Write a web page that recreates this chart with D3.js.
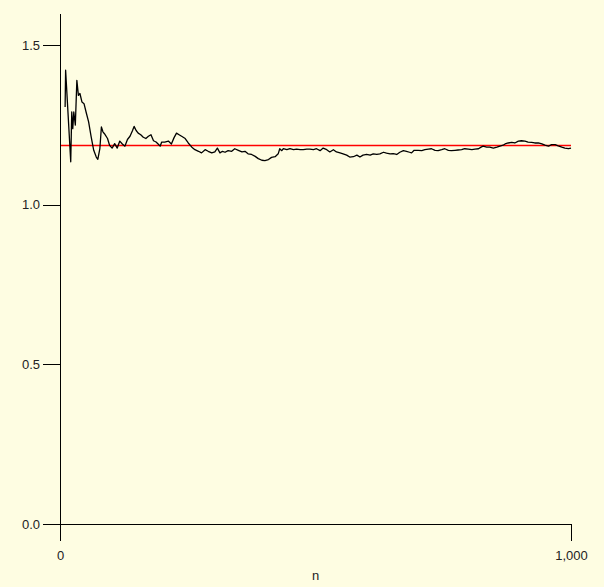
<!DOCTYPE html>
<html>
<head>
    <meta charset="utf-8">
    <style>
        body { margin: 0; background: #fefde2; }
        text { font-family: "Liberation Sans", Arial, sans-serif; }
    </style>
    <script src="https://d3js.org/d3.v7.min.js"></script>
</head>
<body>
<svg width="604" height="587"></svg>
<script>
// running mean against n
const nValues = [10, 11, 21, 23, 25, 27, 30, 33, 36, 39, 43, 47, 51, 56, 61, 66, 71, 74, 78, 81,
    84, 87, 93, 97, 102, 107, 112, 117, 122, 127, 132, 137, 142, 145, 149, 153, 158, 163, 168, 173,
    178, 183, 188, 192, 196, 199, 205, 212, 218, 223, 228, 233, 238, 245, 251, 258, 264, 271, 277, 284,
    290, 297, 303, 308, 313, 318, 323, 329, 336, 342, 349, 356, 362, 368, 375, 382, 388, 395, 401, 408,
    414, 421, 427, 430, 434, 437, 444, 450, 457, 463, 470, 476, 483, 489, 496, 502, 509, 515, 522, 528,
    535, 541, 548, 554, 561, 567, 574, 581, 587, 593, 600, 607, 613, 620, 626, 633, 639, 646, 652, 659,
    665, 672, 678, 684, 688, 693, 701, 708, 714, 721, 727, 734, 740, 747, 753, 760, 766, 773, 779, 786,
    792, 799, 806, 812, 819, 824, 828, 835, 841, 848, 855, 861, 867, 871, 877, 884, 890, 897, 903, 910,
    916, 923, 929, 936, 943, 949, 956, 962, 969, 975, 982, 988, 995, 1000];
const meanValues = [1.306, 1.421, 1.134, 1.290, 1.238, 1.290, 1.249, 1.389, 1.342, 1.348, 1.321, 1.316, 1.290, 1.259, 1.212, 1.170, 1.149, 1.142, 1.175, 1.243,
    1.228, 1.222, 1.207, 1.186, 1.177, 1.191, 1.177, 1.199, 1.190, 1.183, 1.204, 1.214, 1.232, 1.245, 1.232, 1.224, 1.219, 1.211, 1.207, 1.214,
    1.219, 1.200, 1.196, 1.190, 1.183, 1.196, 1.196, 1.199, 1.190, 1.209, 1.224, 1.219, 1.214, 1.207, 1.193, 1.180, 1.172, 1.167, 1.162, 1.172,
    1.167, 1.162, 1.165, 1.177, 1.162, 1.167, 1.164, 1.169, 1.167, 1.175, 1.170, 1.165, 1.167, 1.159, 1.157, 1.151, 1.144, 1.139, 1.138, 1.141,
    1.148, 1.150, 1.159, 1.175, 1.169, 1.175, 1.172, 1.175, 1.172, 1.174, 1.172, 1.172, 1.174, 1.174, 1.172, 1.175, 1.169, 1.177, 1.172, 1.165,
    1.172, 1.165, 1.162, 1.159, 1.155, 1.149, 1.150, 1.155, 1.149, 1.155, 1.157, 1.155, 1.159, 1.157, 1.159, 1.164, 1.161, 1.159, 1.160, 1.157,
    1.164, 1.169, 1.167, 1.164, 1.162, 1.170, 1.170, 1.169, 1.172, 1.174, 1.175, 1.170, 1.169, 1.172, 1.175, 1.170, 1.169, 1.170, 1.171, 1.172,
    1.175, 1.174, 1.172, 1.174, 1.175, 1.180, 1.183, 1.180, 1.180, 1.177, 1.180, 1.183, 1.186, 1.190, 1.193, 1.195, 1.193, 1.199, 1.200, 1.199,
    1.196, 1.195, 1.193, 1.193, 1.190, 1.186, 1.183, 1.188, 1.188, 1.184, 1.180, 1.177, 1.175, 1.177];
const refValue = 1.185;
const xTicks = [0, 1000];
const yTicks = [0, 0.5, 1.0, 1.5];

const svg = d3.select("svg");
const margin = { top: 13, right: 33, bottom: 63, left: 60 };
const width = 604, height = 587;

const x = d3.scaleLinear().domain([0, 1000]).range([margin.left, width - margin.right]);
const y = d3.scaleLinear().domain([0, 1.6]).range([height - margin.bottom, margin.top]);

const data = nValues.map((n, i) => ({ n: n, v: meanValues[i] }));

// reference line
svg.append("line")
    .attr("x1", x(0)).attr("x2", x(1000))
    .attr("y1", y(refValue)).attr("y2", y(refValue))
    .attr("stroke", "#ff0000").attr("stroke-width", 1.5);

svg.append("path")
    .datum(data)
    .attr("fill", "none")
    .attr("stroke", "#000")
    .attr("stroke-width", 1.3)
    .attr("stroke-linejoin", "round")
    .attr("d", d3.line().x(d => x(d.n)).y(d => y(d.v)));

const yAxis = svg.append("g")
    .attr("transform", `translate(${margin.left},0)`)
    .call(d3.axisLeft(y).tickValues(yTicks).tickFormat(d3.format(".1f"))
        .tickSize(17).tickSizeOuter(0).tickPadding(3));

const xAxis = svg.append("g")
    .attr("transform", `translate(0,${height - margin.bottom})`)
    .call(d3.axisBottom(x).tickValues(xTicks).tickFormat(d3.format(","))
        .tickSize(17).tickSizeOuter(0).tickPadding(10));

svg.selectAll(".tick text").attr("font-size", 13).attr("fill", "#222")
    .style("font-family", "'Liberation Sans', Arial, sans-serif");
svg.selectAll(".domain, .tick line").attr("stroke", "#000")
    .attr("shape-rendering", "crispEdges");

svg.append("text")
    .attr("x", (x(0) + x(1000)) / 2)
    .attr("y", 580)
    .attr("text-anchor", "middle")
    .attr("font-size", 13)
    .attr("fill", "#222")
    .text("n");
</script>
</body>
</html>
